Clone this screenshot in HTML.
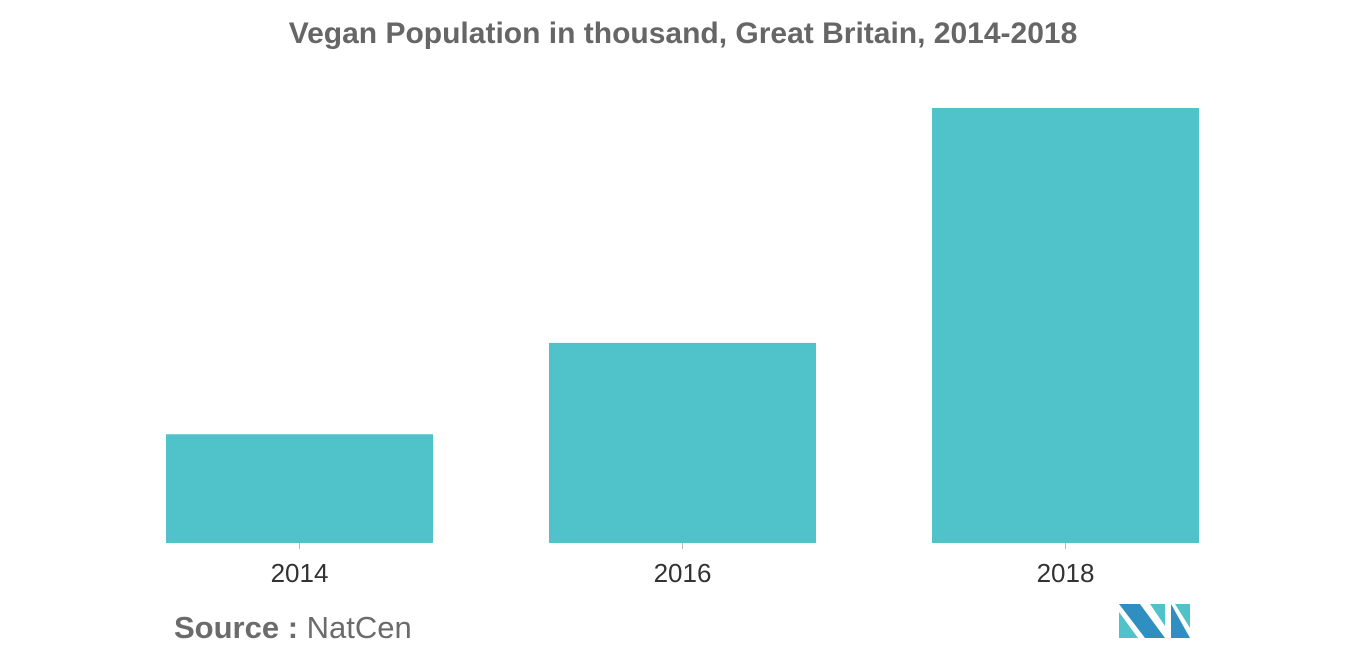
<!DOCTYPE html>
<html><head><meta charset="utf-8"><style>
body{margin:0;width:1366px;height:655px;background:#fff;overflow:hidden;font-family:"Liberation Sans",sans-serif}
</style></head><body>
<svg width="1366" height="655">
<text x="683" y="43" text-anchor="middle" font-size="30" font-weight="bold" fill="#666">Vegan Population in thousand, Great Britain, 2014-2018</text>
<g id="bars"></g>
<text x="174" y="638" font-size="31" fill="#6b6b6b"><tspan font-weight="bold">Source :</tspan> NatCen</text>
<g>
<polygon points="1119,604 1140,604 1165,638 1145,638" fill="#2e8fc0"/>
<polygon points="1119,612 1119,638 1138,638" fill="#4fc3c9"/>
<polygon points="1150,604 1165,604 1165,626" fill="#4fc3c9"/>
<polygon points="1171,604 1190,638 1171,638" fill="#2e8fc0"/>
<polygon points="1175,604 1190,604 1190,628" fill="#4fc3c9"/>
</g>
</svg>
<script>
const categories=["2014","2016","2018"];
const values=[150,276,600];
const baseY=543, topY=108, maxV=600;
const yScale=v=>baseY-(v/maxV)*(baseY-topY);
const x0=166, step=383, bw=267;
const g=document.getElementById('bars');
const ns="http://www.w3.org/2000/svg";
categories.forEach((c,i)=>{
 const r=document.createElementNS(ns,'rect');
 r.setAttribute('x',x0+i*step);r.setAttribute('y',yScale(values[i]));
 r.setAttribute('width',bw);r.setAttribute('height',baseY-yScale(values[i]));
 r.setAttribute('fill','#50c3ca');
 
 
 g.appendChild(r);
 const cx=x0+i*step+bw/2;
 const t=document.createElementNS(ns,'line');
 t.setAttribute('x1',cx);t.setAttribute('x2',cx);t.setAttribute('y1',baseY);t.setAttribute('y2',baseY+6);
 t.setAttribute('stroke','#bbb');
 
 
 g.appendChild(t);
 const l=document.createElementNS(ns,'text');
 l.setAttribute('x',cx);l.setAttribute('y',582);l.setAttribute('text-anchor','middle');
 l.setAttribute('font-size','26');l.setAttribute('fill','#333');
 l.textContent=c;
 
 
 g.appendChild(l);
});
</script>
</body></html>
